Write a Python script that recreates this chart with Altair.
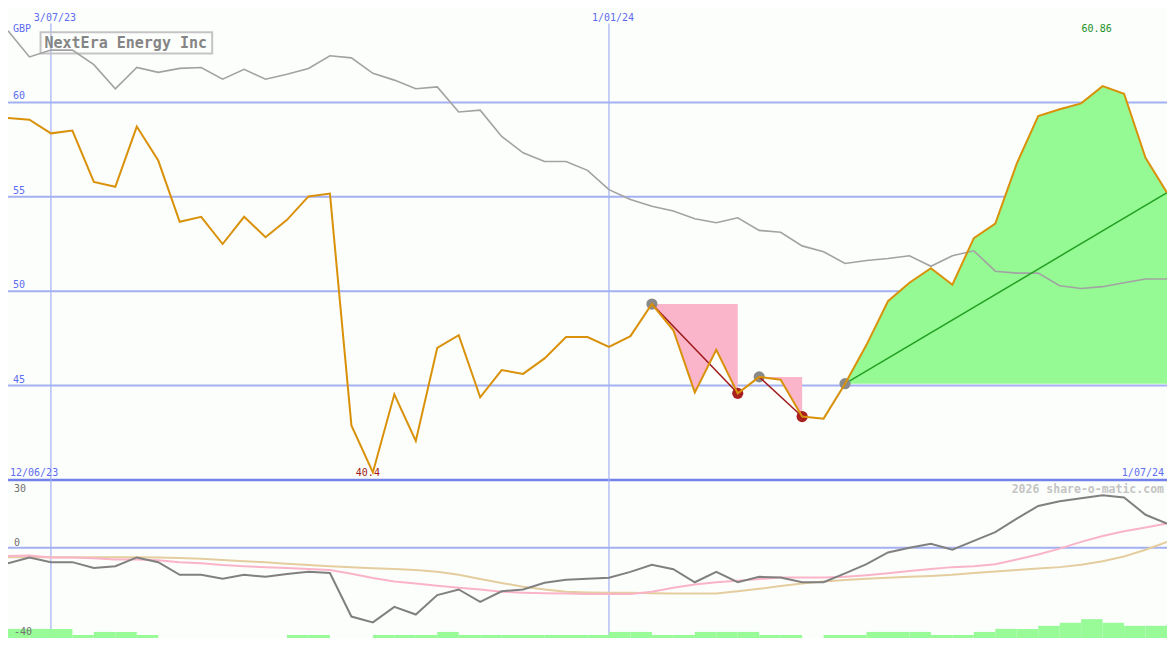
import altair as alt
import pandas as pd

# ---------------- data ----------------
START = "2023-06-19"          # first weekly point
PRICE = [59.18, 59.08, 58.36, 58.51, 55.79, 55.53, 58.72, 56.92, 53.68, 53.94,
         52.50, 53.94, 52.86, 53.78, 55.02, 55.17, 42.89, 40.40, 44.54, 42.07,
         47.00, 47.67, 44.38, 45.82, 45.62, 46.44, 47.57, 47.57, 47.05, 47.62,
         49.32, 47.93, 44.64, 46.90, 44.59, 45.46, 45.31, 43.36, 43.25, 45.10,
         47.16, 49.47, 50.45, 51.22, 50.34, 52.81, 53.58, 56.76, 59.28, 59.64,
         59.95, 60.86, 60.46, 57.07, 55.22]
AVERAGE = [63.80, 62.41, 62.77, 62.77, 62.00, 60.72, 61.85, 61.59, 61.80, 61.85,
           61.23, 61.75, 61.23, 61.49, 61.80, 62.47, 62.36, 61.54, 61.18, 60.72,
           60.82, 59.49, 59.59, 58.20, 57.33, 56.87, 56.87, 56.40, 55.38, 54.86,
           54.50, 54.25, 53.84, 53.63, 53.89, 53.22, 53.12, 52.40, 52.09, 51.47,
           51.63, 51.73, 51.88, 51.32, 51.88, 52.14, 51.06, 50.96, 50.96, 50.29,
           50.14, 50.24, 50.45, 50.65, 50.65]
OSC = [-6.9, -4.3, -6.4, -6.4, -9.0, -8.2, -4.3, -6.4, -12.0, -12.0,
       -13.7, -12.0, -12.9, -11.6, -10.7, -11.2, -30.5, -33.1, -26.2, -29.6,
       -21.0, -18.5, -24.0, -19.3, -18.5, -15.5, -14.2, -13.7, -13.3, -10.7,
       -7.6, -9.5, -15.3, -10.7, -15.3, -12.9, -13.2, -15.3, -15.3, -11.4,
       -7.3, -2.1, 0.0, 1.7, -0.9, 3.0, 6.9, 12.9, 18.5, 20.6,
       21.9, 23.2, 22.3, 14.6, 10.7]
FAST = [-3.7, -3.4, -4.3, -4.3, -4.7, -5.2, -5.2, -5.6, -6.4, -6.9,
        -7.7, -8.2, -8.6, -9.0, -9.4, -9.9, -11.5, -13.4, -15.0, -15.9,
        -16.9, -17.7, -18.5, -19.5, -19.9, -20.2, -20.3, -20.5, -20.5, -20.5,
        -19.5, -17.7, -16.3, -15.3, -14.6, -13.9, -13.2, -13.2, -13.2, -12.9,
        -12.2, -11.3, -10.3, -9.4, -8.6, -8.2, -7.3, -5.2, -3.0, -0.4,
        2.6, 5.2, 7.3, 9.0, 10.7]
SLOW = [-4.2, -4.2, -4.2, -4.2, -4.2, -4.2, -4.2, -4.3, -4.6, -4.9,
        -5.4, -6.0, -6.4, -7.1, -7.7, -8.2, -8.7, -9.1, -9.4, -9.9,
        -10.6, -12.0, -13.9, -15.6, -17.3, -18.5, -19.5, -19.8, -19.9, -19.9,
        -20.2, -20.3, -20.3, -20.3, -19.3, -18.2, -17.0, -15.9, -15.0, -14.3,
        -13.7, -13.3, -12.9, -12.5, -12.0, -11.2, -10.5, -9.9, -9.2, -8.6,
        -7.5, -6.0, -3.9, -0.9, 2.6]
VOLUME = [3, 3, 3, 1, 2, 2, 1, 0, 0, 0, 0, 0, 0, 1, 1, 0, 0, 1, 1, 1,
          2, 1, 1, 1, 1, 1, 1, 1, 2, 2, 1, 1, 2, 2, 2, 1, 1, 0, 1, 1,
          2, 2, 2, 1, 1, 2, 3, 3, 4, 5, 6.2, 5, 4, 4]
PRICE_LEVELS = [45, 50, 55, 60]
DATE_MARKS = ["2023-07-03", "2024-01-01"]
DATE_TEXT = ["3/07/23", "1/01/24"]
FALL_SEGMENTS = [(30, 34), (35, 37)]   # peak index -> trough index
RISE_SEGMENT = (39, 54)
TITLE = "NextEra Energy Inc"

# ---------------- layout ----------------
W, H, H_MAIN = 1159, 630, 472
SX, SY = W / 1175, H / 650
BG = "#fcfefc"
GRID = "#a3b1f2"
BLUE_TXT = "#5d6cf0"
FONT = "DejaVu Sans Mono"

dates = pd.date_range(START, periods=len(PRICE), freq="7D")
df = pd.DataFrame({"date": dates, "price": PRICE, "avg": AVERAGE,
                   "osc": OSC, "fast": FAST, "slow": SLOW})

xs = alt.Scale(domain=[alt.DateTime(year=2023, month=6, date=19),
                       alt.DateTime(year=2024, month=7, date=1)], nice=False)
ys_main = alt.Scale(domain=[40, 65], range=[H_MAIN, 0], nice=False, zero=False)
ys_bot = alt.Scale(domain=[-40, 30], range=[H, H_MAIN], nice=False, zero=False)
ys_vol = alt.Scale(domain=[0, 52], range=[H, H_MAIN], nice=False, zero=False)

X = alt.X("date:T", scale=xs, axis=None)

layers = []

# grid lines
layers.append(alt.Chart(pd.DataFrame({"level": PRICE_LEVELS})).mark_rule(
    color=GRID, strokeWidth=2).encode(y=alt.Y("level:Q", scale=ys_main, axis=None)))
layers.append(alt.Chart(pd.DataFrame({"level": [0]})).mark_rule(
    color=GRID, strokeWidth=2).encode(y=alt.Y("level:Q", scale=ys_bot, axis=None)))
layers.append(alt.Chart(pd.DataFrame({"level": [30]})).mark_rule(
    color="#7282ea", strokeWidth=2.5).encode(y=alt.Y("level:Q", scale=ys_bot, axis=None)))
dm = pd.DataFrame({"date": pd.to_datetime(DATE_MARKS), "t": DATE_TEXT})
layers.append(alt.Chart(dm).mark_rule(color="#a3aff4", strokeWidth=1.2).encode(
    x=X, y=alt.value(16 * SY), y2=alt.value(H)))

# volume bars
vol = pd.DataFrame({"date": dates[:-1], "next": dates[1:], "vol": VOLUME})
layers.append(alt.Chart(vol).mark_rect(color="#98fb98").encode(
    x=X, x2="next:T", y=alt.Y("vol:Q", scale=ys_vol, axis=None), y2=alt.datum(0)))

# pink falling areas
rows = []
for k, (a, b) in enumerate(FALL_SEGMENTS):
    for i in range(a, b + 1):
        rows.append({"date": dates[i], "price": PRICE[i], "top": PRICE[a], "seg": k})
layers.append(alt.Chart(pd.DataFrame(rows)).mark_area(color="#fab5ca", opacity=1).encode(
    x=X, y=alt.Y("price:Q", scale=ys_main, axis=None), y2="top:Q", detail="seg:N"))

# green rising area
a, b = RISE_SEGMENT
ga = pd.DataFrame({"date": dates[a:b + 1], "price": PRICE[a:b + 1], "base": PRICE[a]})
layers.append(alt.Chart(ga).mark_area(color="#96fa94", opacity=1).encode(
    x=X, y=alt.Y("price:Q", scale=ys_main, axis=None), y2="base:Q"))

# title box
one = pd.DataFrame({"t": [TITLE]})
layers.append(alt.Chart(one).mark_rect(fillOpacity=0, stroke="#c4c4c4", strokeWidth=2).encode(
    x=alt.value(33 * SX), x2=alt.value(207 * SX), y=alt.value(25 * SY), y2=alt.value(47 * SY)))

# gray comparison line
layers.append(alt.Chart(df).mark_line(color="#a2a2a2", strokeWidth=1.6).encode(
    x=X, y=alt.Y("avg:Q", scale=ys_main, axis=None)))

# lower panel lines
layers.append(alt.Chart(df).mark_line(color="#e4cd9e", strokeWidth=2).encode(
    x=X, y=alt.Y("slow:Q", scale=ys_bot, axis=None)))
layers.append(alt.Chart(df).mark_line(color="#f9b4c8", strokeWidth=2).encode(
    x=X, y=alt.Y("fast:Q", scale=ys_bot, axis=None)))
layers.append(alt.Chart(df).mark_line(color="#808080", strokeWidth=2).encode(
    x=X, y=alt.Y("osc:Q", scale=ys_bot, axis=None)))

# green trend line
gl = pd.DataFrame({"date": [dates[a], dates[b]], "price": [PRICE[a], PRICE[b]]})
layers.append(alt.Chart(gl).mark_line(color="#22a022", strokeWidth=1.5).encode(
    x=X, y=alt.Y("price:Q", scale=ys_main, axis=None)))

# dots
dots = []
for (p, t) in FALL_SEGMENTS:
    dots.append({"date": dates[p], "price": PRICE[p], "kind": "peak"})
    dots.append({"date": dates[t], "price": PRICE[t], "kind": "trough"})
dots.append({"date": dates[a], "price": PRICE[a], "kind": "peak"})
layers.append(alt.Chart(pd.DataFrame(dots)).mark_circle(size=125, opacity=1).encode(
    x=X, y=alt.Y("price:Q", scale=ys_main, axis=None),
    color=alt.Color("kind:N", scale=alt.Scale(domain=["peak", "trough"],
                                              range=["#8a8a8a", "#a82020"]), legend=None)))

# red fall lines
rl = []
for k, (p, t) in enumerate(FALL_SEGMENTS):
    rl.append({"date": dates[p], "price": PRICE[p], "seg": k})
    rl.append({"date": dates[t], "price": PRICE[t], "seg": k})
layers.append(alt.Chart(pd.DataFrame(rl)).mark_line(color="#a01818", strokeWidth=1.5).encode(
    x=X, y=alt.Y("price:Q", scale=ys_main, axis=None), detail="seg:N"))

# price line
layers.append(alt.Chart(df).mark_line(color="#d9910a", strokeWidth=2).encode(
    x=X, y=alt.Y("price:Q", scale=ys_main, axis=None)))


# ---------------- texts ----------------
def txt(text, x, y, color, size=10, align="left", bold=False):
    return alt.Chart(pd.DataFrame({"t": [text]})).mark_text(
        font=FONT, fontSize=size, color=color, align=align, baseline="alphabetic",
        fontWeight="bold" if bold else "normal").encode(
        x=alt.value(x), y=alt.value(y), text="t:N")


layers.append(txt(TITLE, 37 * SX, 41 * SY, "#858585", size=15, bold=True))
layers.append(txt("GBP", 5, 25 * SY, BLUE_TXT))
layers.append(alt.Chart(pd.DataFrame({"level": PRICE_LEVELS})).mark_text(
    font=FONT, fontSize=10, color=BLUE_TXT, align="left", baseline="alphabetic", dy=-3).encode(
    x=alt.value(5), y=alt.Y("level:Q", scale=ys_main, axis=None), text="level:N"))
layers.append(alt.Chart(dm).mark_text(
    font=FONT, fontSize=10, color=BLUE_TXT, align="center", baseline="alphabetic", dx=4).encode(
    x=X, y=alt.value(13 * SY), text="t:N"))
layers.append(txt("12/06/23", 2, 483 * SY, BLUE_TXT))
layers.append(txt("1/07/24", W - 3, 483 * SY, BLUE_TXT, align="right"))
layers.append(txt("2026 share-o-matic.com", W - 3, 500 * SY, "#c4c4c4", size=11.5, align="right", bold=True))
layers.append(txt("30", 6, 499 * SY, "#707070"))
layers.append(txt("0", 6, 555 * SY, "#707070"))
layers.append(txt("-40", 6, 647 * SY, "#707070"))

imax = PRICE.index(max(PRICE))
imin = PRICE.index(min(PRICE))
ext = pd.DataFrame({"date": [dates[imax], dates[imin]],
                    "t": [f"{PRICE[imax]:.2f}", f"{PRICE[imin]:.1f}"],
                    "c": ["max", "min"]})
layers.append(alt.Chart(ext).transform_filter("datum.c == 'max'").mark_text(
    font=FONT, fontSize=10, color="#229022", align="center", baseline="alphabetic", dx=-6).encode(
    x=X, y=alt.value(25 * SY), text="t:N"))
layers.append(alt.Chart(ext).transform_filter("datum.c == 'min'").mark_text(
    font=FONT, fontSize=10, color="#a01818", align="center", baseline="alphabetic", dx=-5).encode(
    x=X, y=alt.value(483 * SY), text="t:N"))

chart = alt.layer(*layers).resolve_scale(y="independent").properties(
    width=W, height=H, padding=0,
    autosize=alt.AutoSizeParams(type="none"),
).configure(background=BG).configure_view(stroke=None)

chart.save("out.html", embed_options={"renderer": "svg", "actions": False})
